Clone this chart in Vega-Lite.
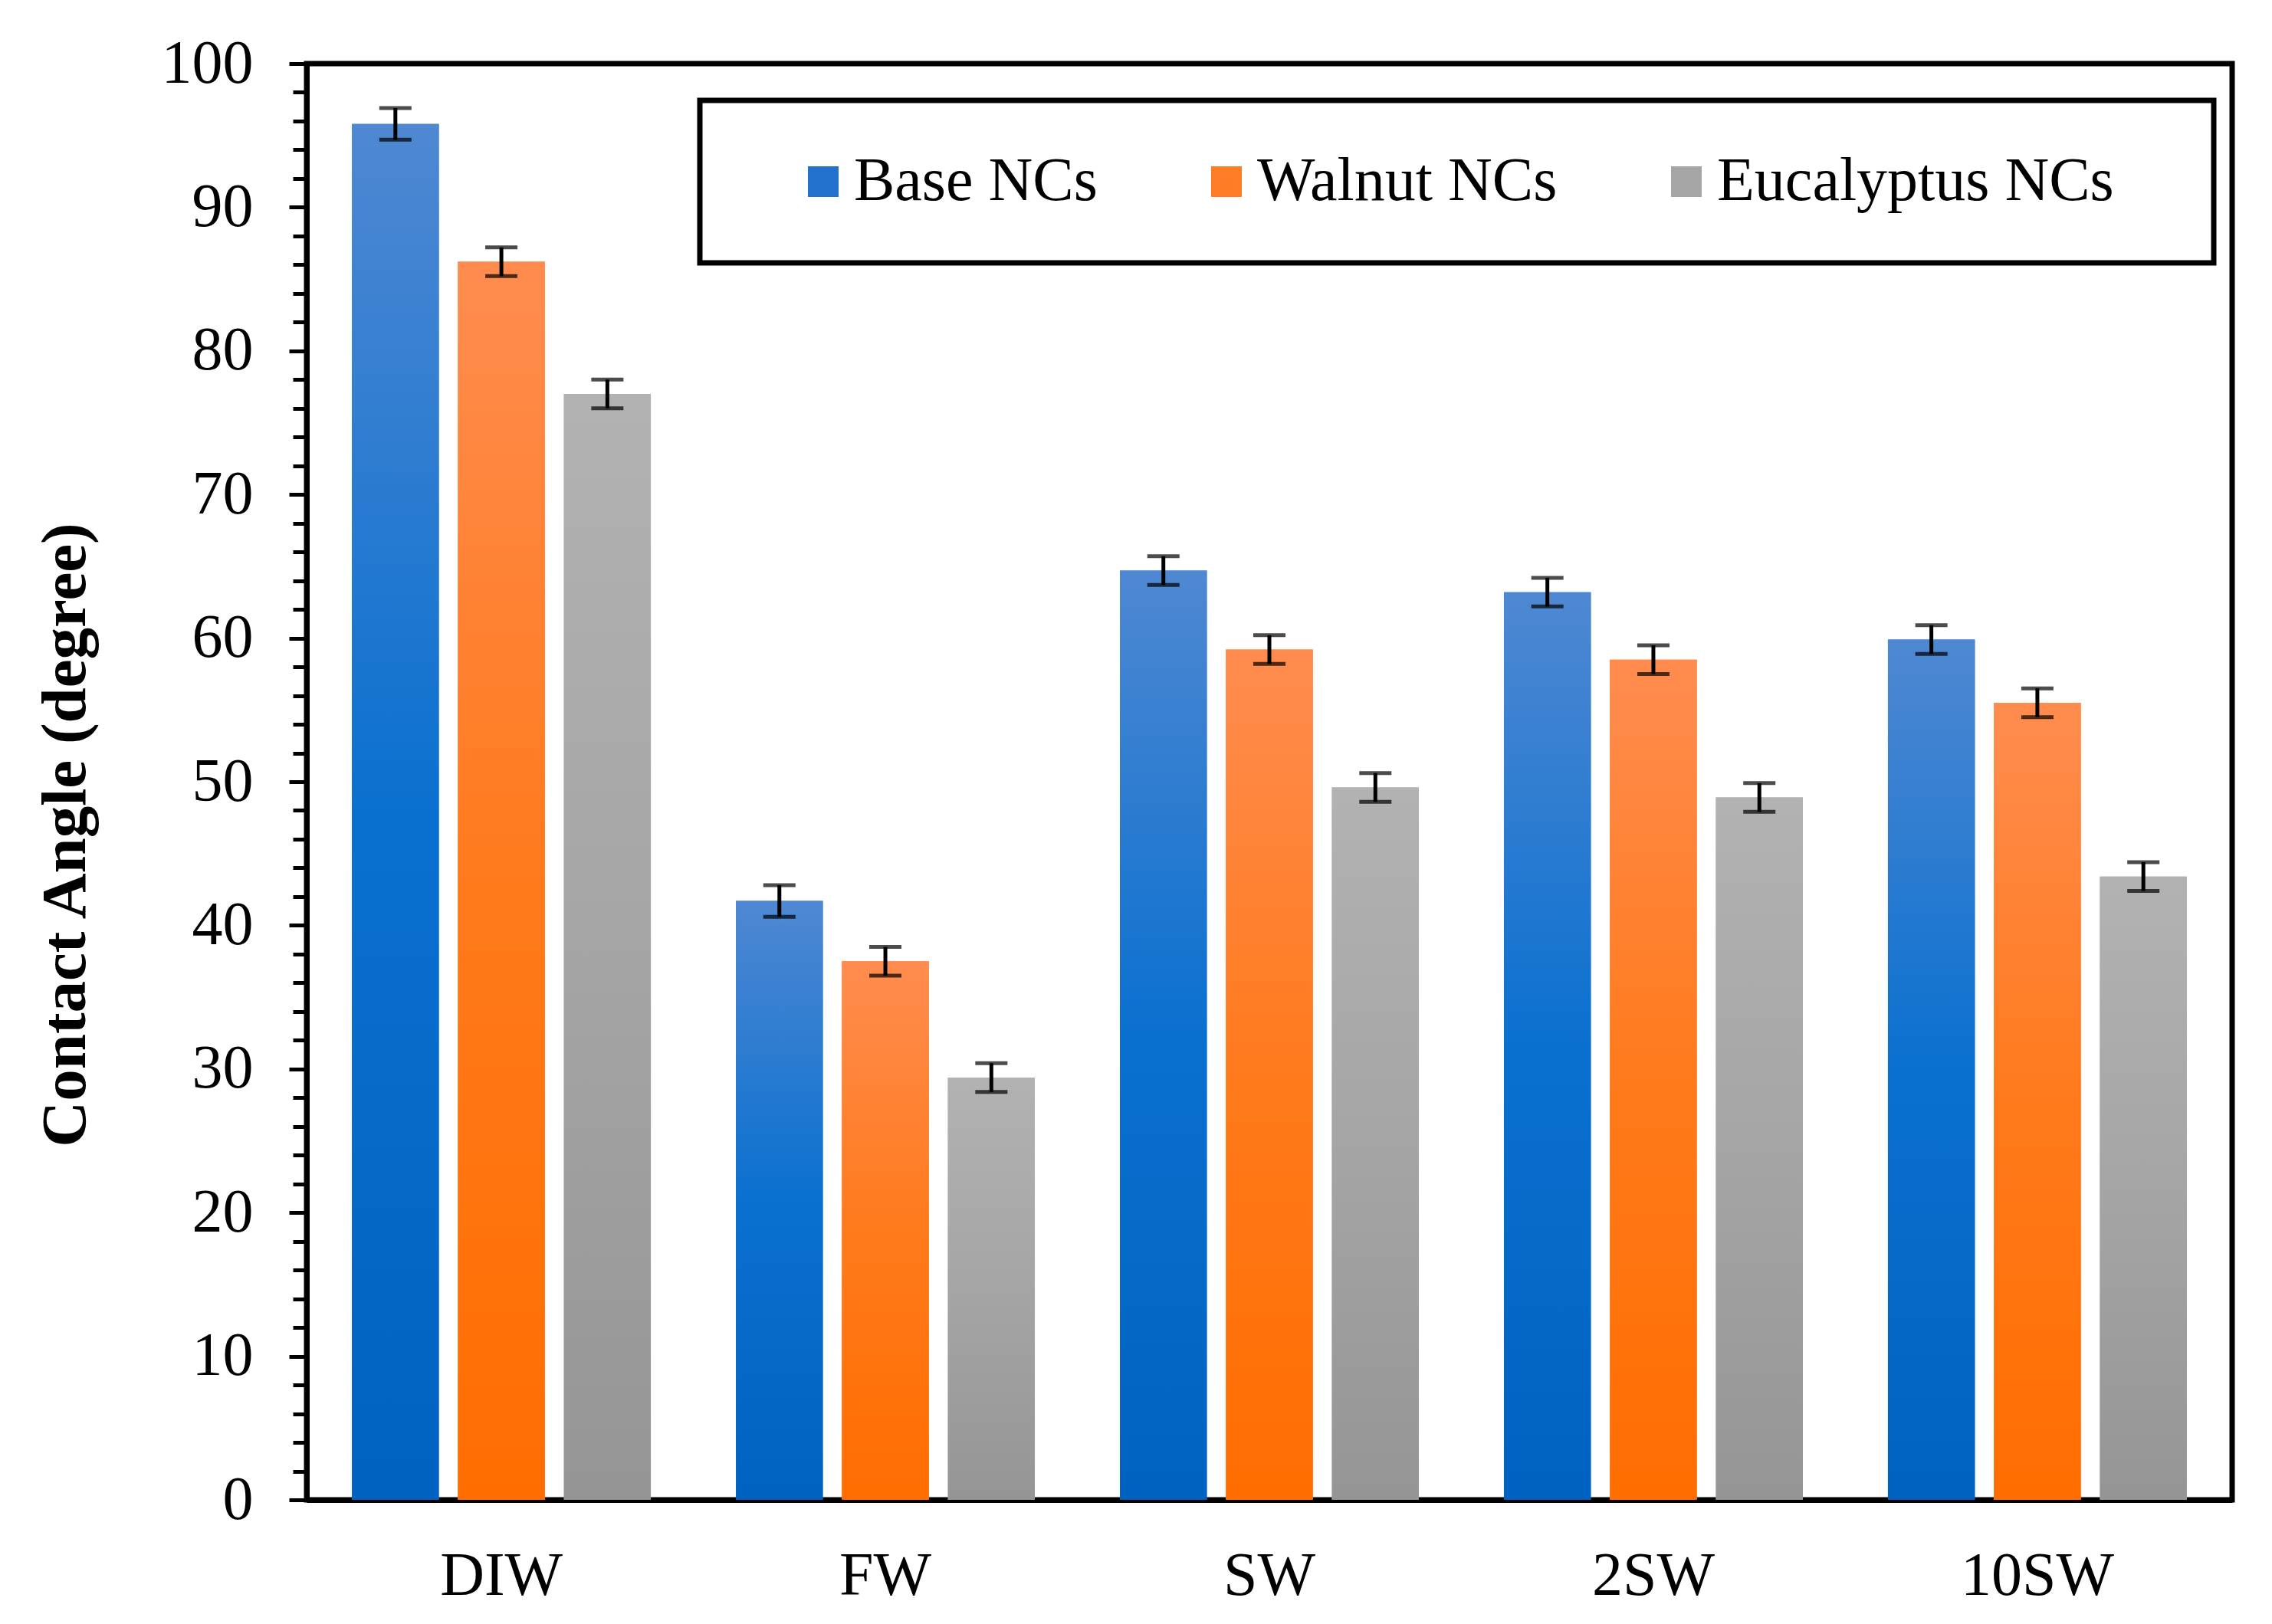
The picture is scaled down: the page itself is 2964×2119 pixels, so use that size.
{
  "$schema": "https://vega.github.io/schema/vega-lite/v6.json",
  "width": 2512,
  "height": 1874,
  "autosize": "none",
  "padding": {"left": 400, "top": 83, "right": 52, "bottom": 162},
  "background": "white",
  "config": {
    "font": "Liberation Serif",
    "view": {"stroke": "black", "strokeWidth": 7},
    "axis": {"domainColor": "black", "domainWidth": 7, "tickColor": "black", "labelColor": "black", "titleColor": "black", "labelFont": "Liberation Serif", "titleFont": "Liberation Serif", "labelFontSize": 80, "grid": false},
    "legend": {"labelFont": "Liberation Serif"}
  },
  "resolve": {"axis": {"y": "independent"}},
  "data": {"values": [
    {"water": "DIW", "nc": "Base NCs", "angle": 95.8, "lo": 94.7, "hi": 96.9},
    {"water": "DIW", "nc": "Walnut NCs", "angle": 86.2, "lo": 85.2, "hi": 87.2},
    {"water": "DIW", "nc": "Eucalyptus NCs", "angle": 77.0, "lo": 76.0, "hi": 78.0},
    {"water": "FW", "nc": "Base NCs", "angle": 41.7, "lo": 40.6, "hi": 42.8},
    {"water": "FW", "nc": "Walnut NCs", "angle": 37.5, "lo": 36.5, "hi": 38.5},
    {"water": "FW", "nc": "Eucalyptus NCs", "angle": 29.4, "lo": 28.4, "hi": 30.4},
    {"water": "SW", "nc": "Base NCs", "angle": 64.7, "lo": 63.7, "hi": 65.7},
    {"water": "SW", "nc": "Walnut NCs", "angle": 59.2, "lo": 58.2, "hi": 60.2},
    {"water": "SW", "nc": "Eucalyptus NCs", "angle": 49.6, "lo": 48.6, "hi": 50.6},
    {"water": "2SW", "nc": "Base NCs", "angle": 63.2, "lo": 62.2, "hi": 64.2},
    {"water": "2SW", "nc": "Walnut NCs", "angle": 58.5, "lo": 57.5, "hi": 59.5},
    {"water": "2SW", "nc": "Eucalyptus NCs", "angle": 48.9, "lo": 47.9, "hi": 49.9},
    {"water": "10SW", "nc": "Base NCs", "angle": 59.9, "lo": 58.9, "hi": 60.9},
    {"water": "10SW", "nc": "Walnut NCs", "angle": 55.5, "lo": 54.5, "hi": 56.5},
    {"water": "10SW", "nc": "Eucalyptus NCs", "angle": 43.4, "lo": 42.4, "hi": 44.4}
  ]},
  "encoding": {
    "x": {"field": "water", "type": "nominal", "title": null,
      "scale": {"domain": ["DIW", "FW", "SW", "2SW", "10SW"], "paddingInner": 0.2216, "paddingOuter": 0.118},
      "axis": {"ticks": false, "labelAngle": 0, "labelPadding": 60, "labelBaseline": "top", "labelLimit": 1000}},
    "xOffset": {"field": "nc", "type": "nominal",
      "scale": {"domain": ["Base NCs", "Walnut NCs", "Eucalyptus NCs"], "paddingInner": 0.18, "paddingOuter": 0}}
  },
  "layer": [
    {
      "mark": {"type": "bar"},
      "encoding": {
        "y": {"field": "angle", "type": "quantitative", "title": "Contact Angle (degree)",
          "scale": {"domain": [0, 100], "nice": false},
          "axis": {
            "orient": "left",
            "values": [0,2,4,6,8,10,12,14,16,18,20,22,24,26,28,30,32,34,36,38,40,42,44,46,48,50,52,54,56,58,60,62,64,66,68,70,72,74,76,78,80,82,84,86,88,90,92,94,96,98,100],
            "labelExpr": "datum.value % 10 === 0 ? datum.label : ''",
            "labelOverlap": false, "labelBound": false,
            "tickSize": {"condition": {"test": "datum.value % 10 === 0", "value": 23}, "value": 18},
            "tickWidth": 5, "labelPadding": 47,
            "titleFontSize": 83, "titleFontWeight": "bold", "titleAngle": 270,
            "titleX": -315, "titleY": 1006, "titleAlign": "center", "titleBaseline": "middle"
          }},
        "color": {"field": "nc", "type": "nominal", "title": " ",
          "scale": {"domain": ["Base NCs", "Walnut NCs", "Eucalyptus NCs"], "range": ["#2272cd", "#ff7d26", "#a5a5a5"]},
          "legend": {"orient": "none", "legendX": 513, "legendY": 48, "direction": "horizontal",
            "strokeColor": "black", "fillColor": "white", "padding": 66,
            "titleOrient": "right", "titleFontSize": 80, "titlePadding": 64,
            "symbolType": "square", "symbolSize": 1600, "symbolStrokeWidth": 0, "symbolOffset": 55,
            "labelFontSize": 80, "labelOffset": 0, "columnPadding": 73, "labelColor": "black", "labelLimit": 1000,
            "encode": {"legend": {"update": {"stroke": {"value": "black"}, "strokeWidth": {"value": 7}}}}}}
      }
    },
    {
      "transform": [{"filter": "datum.nc === 'Base NCs'"}],
      "mark": {"type": "bar", "color": {"gradient": "linear", "x1": 0, "y1": 0, "x2": 0, "y2": 1, "stops": [{"offset": 0, "color": "#4f88d2"}, {"offset": 0.5, "color": "#0a70cf"}, {"offset": 1, "color": "#0062c0"}]}},
      "encoding": {"y": {"field": "angle", "type": "quantitative", "axis": null}}
    },
    {
      "transform": [{"filter": "datum.nc === 'Walnut NCs'"}],
      "mark": {"type": "bar", "color": {"gradient": "linear", "x1": 0, "y1": 0, "x2": 0, "y2": 1, "stops": [{"offset": 0, "color": "#ff8c4f"}, {"offset": 0.5, "color": "#ff7a1c"}, {"offset": 1, "color": "#ff6d00"}]}},
      "encoding": {"y": {"field": "angle", "type": "quantitative", "axis": null}}
    },
    {
      "transform": [{"filter": "datum.nc === 'Eucalyptus NCs'"}],
      "mark": {"type": "bar", "color": {"gradient": "linear", "x1": 0, "y1": 0, "x2": 0, "y2": 1, "stops": [{"offset": 0, "color": "#b2b2b2"}, {"offset": 0.5, "color": "#a5a5a5"}, {"offset": 1, "color": "#959595"}]}},
      "encoding": {"y": {"field": "angle", "type": "quantitative", "axis": null}}
    },
    {
      "mark": {"type": "rule", "color": "black", "strokeWidth": 5},
      "encoding": {"y": {"field": "lo", "type": "quantitative", "axis": null}, "y2": {"field": "hi"}}
    },
    {
      "mark": {"type": "tick", "color": "black", "thickness": 5, "size": 42},
      "encoding": {"y": {"field": "lo", "type": "quantitative", "axis": null}}
    },
    {
      "mark": {"type": "tick", "color": "black", "thickness": 5, "size": 42},
      "encoding": {"y": {"field": "hi", "type": "quantitative", "axis": null}}
    }
  ]
}
